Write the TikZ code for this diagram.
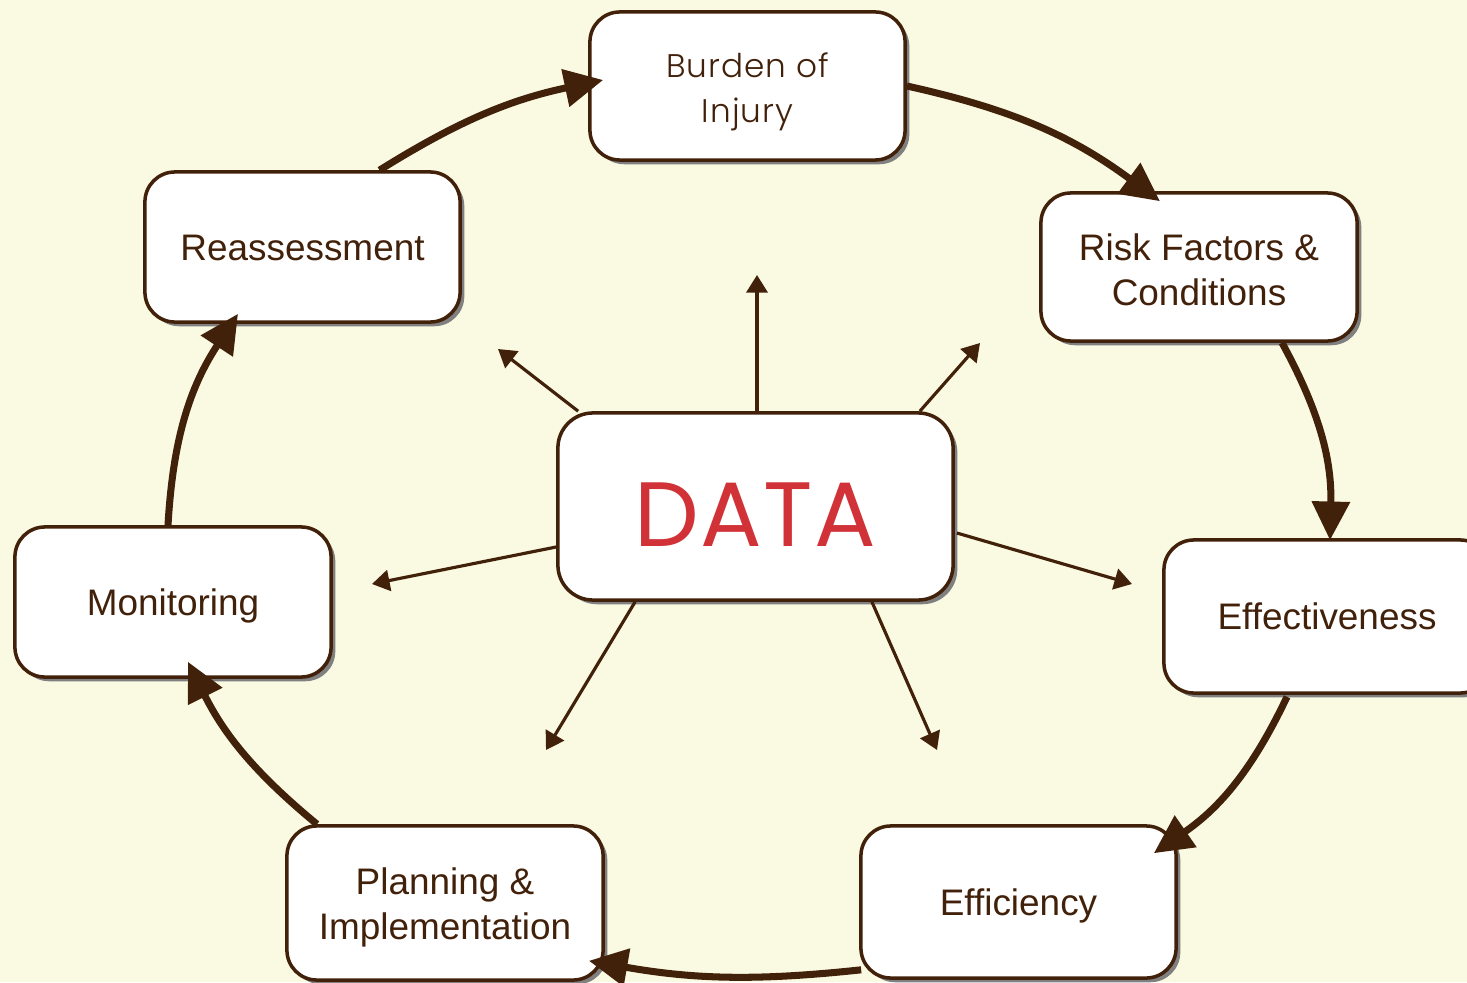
\documentclass[tikz,border=0pt]{standalone}
\usepackage{fontspec}
\setmainfont{Liberation Sans}
\newfontfamily\datafont{Poppins}[LetterSpace=1.5]
\newfontfamily\burdenfont{Poppins}[UprightFont=* Light, LetterSpace=3]
\usetikzlibrary{arrows.meta,shadows,calc}
\definecolor{bgc}{HTML}{FAFAE3}
\definecolor{brn}{HTML}{42210B}
\definecolor{datared}{HTML}{D03238}
\newcommand\lowr[2]{\raisebox{-#1}[\height][\depth]{#2}}
\begin{document}
\begin{tikzpicture}[x=0.01cm,y=-0.01cm,
 box/.style={draw=brn, line width=1pt, fill=white, rounded corners=0.3cm, align=center, text=brn,
   font=\fontsize{10.5}{12.8}\selectfont,
   drop shadow={shadow xshift=1.2pt, shadow yshift=-1.2pt, fill=gray, opacity=1}},
 cyc/.style={draw=brn, line width=2pt, -{Triangle[length=11pt,width=10.5pt]}},
 ray/.style={draw=brn, line width=0.9pt, -{Triangle[length=5pt,width=6pt]}}]
\fill[bgc] (0,0) rectangle (1467,982);
\useasboundingbox (0,0) rectangle (1467,982);
\clip (0,0) rectangle (1467,982);

\node[box, minimum width=3.15cm, minimum height=1.48cm, font=\burdenfont\fontsize{9.3}{12.8}\selectfont] (burden) at (747.5,86) {\lowr{1.8pt}{Burden of}\\\lowr{1.8pt}{Injury}};
\node[box, minimum width=3.16cm, minimum height=1.48cm] (risk) at (1199,267) {\lowr{0.7pt}{Risk Factors \&}\\\lowr{0.7pt}{Conditions}};
\node[box, minimum width=3.26cm, minimum height=1.53cm] (effect) at (1327,616.5) {Effectiveness};
\node[box, minimum width=3.15cm, minimum height=1.52cm] (effic) at (1018.5,902) {\lowr{1.1pt}{Efficiency}};
\node[box, minimum width=3.16cm, minimum height=1.54cm] (plan) at (445,903) {\lowr{1.3pt}{Planning \&}\\\lowr{1.3pt}{Implementation}};
\node[box, minimum width=3.16cm, minimum height=1.50cm] (monit) at (173,602) {\lowr{1.1pt}{Monitoring}};
\node[box, minimum width=3.15cm, minimum height=1.50cm] (reas) at (302.5,247) {\lowr{0.3pt}{Reassessment}};
\node[box, minimum width=3.95cm, minimum height=1.87cm, rounded corners=0.35cm, text=datared,
  font=\datafont\fontsize{26}{30}\selectfont] (data) at (755.5,506.5) {\lowr{2.2pt}{DATA}};

\coordinate (eT) at (757,275);
\coordinate (eUL) at (498,349);
\coordinate (eUR) at (980,343);
\coordinate (eL) at (372,584);
\coordinate (eR) at (1132,584);
\coordinate (eBL) at (546,750);
\coordinate (eBR) at (937,750);

\draw[ray] ($(data.north)+(1.5,0)$) -- (eT);
\draw[ray] ($(data.north west)+(22,0)$) -- (eUL);
\draw[ray] ($(data.north east)+(-35,0)$) -- (eUR);
\draw[ray] ($(data.west)+(0,40.5)$) -- (eL);
\draw[ray] ($(data.east)+(2,26.5)$) -- (eR);
\draw[ray] ($(data.south west)+(79,0)$) -- (eBL);
\draw[ray] ($(data.south east)+(-83,0)$) -- (eBR);

\draw[cyc] ($(reas.north)+(77,0)$) to[bend left=10] ($(burden.west)+(15,-6)$);
\draw[cyc] (burden.east) to[bend left=12] ($(risk.north)+(-39,10)$);
\draw[cyc] ($(risk.south)+(83,0)$) to[bend left=15] ($(effect.north)+(3,2)$);
\draw[cyc] ($(effect.south)+(-40,2)$) to[bend left=15] ($(effic.north east)+(-24,29)$);
\draw[cyc] ($(effic.south west)+(2,-10)$) to[bend left=8] ($(plan.south east)+(-16,-21)$);
\draw[cyc] ($(plan.north)+(-128,0)$) to[bend left=12] ($(monit.south)+(15,-17)$);
\draw[cyc] ($(monit.north)+(-5,0)$) to[bend left=15] ($(reas.south)+(-64.5,-10)$);
\end{tikzpicture}
\end{document}
